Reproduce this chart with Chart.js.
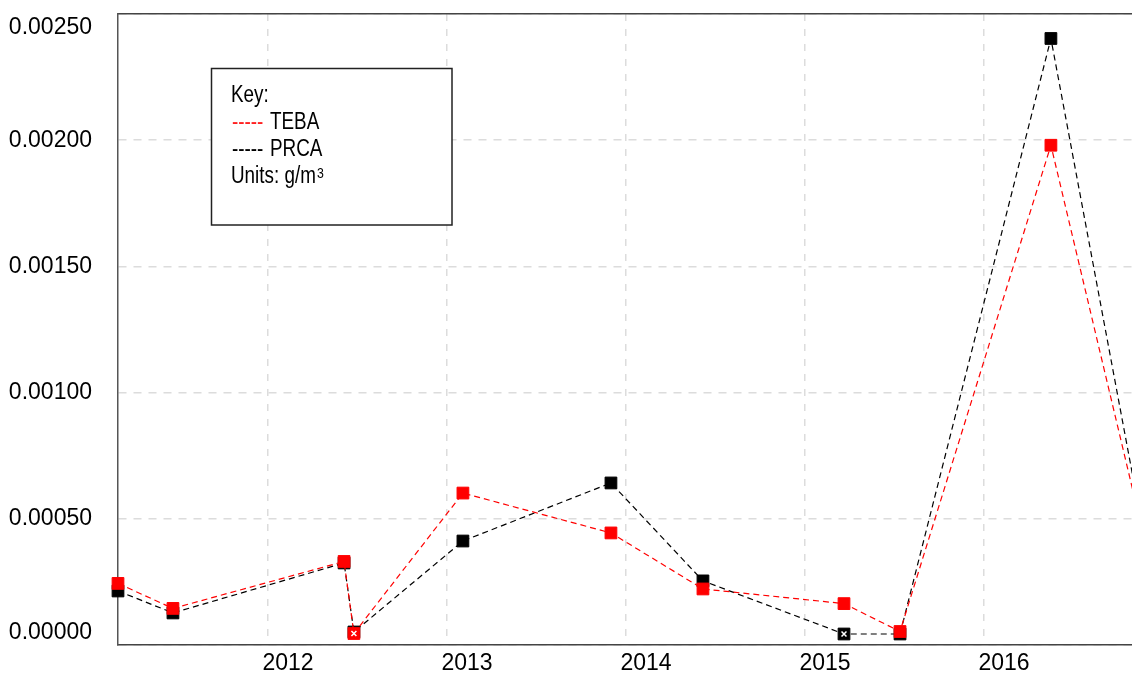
<!DOCTYPE html>
<html><head><meta charset="utf-8">
<script src="https://cdn.jsdelivr.net/npm/chart.js@4/dist/chart.umd.min.js"></script>
<style>html,body{margin:0;padding:0;background:#fff;overflow:hidden}#wrap{width:1132px;height:677px;position:relative}</style>
</head><body><div id="wrap"><canvas id="c" width="1132" height="677"></canvas></div>
<script>
// ---- data ----
const years = [2011.162, 2011.469, 2012.425, 2012.480, 2013.089, 2013.916, 2014.430, 2015.218, 2015.531, 2016.374, 2017.0];
const teba  = [0.000244, 0.000145, 0.000331, 0.0000455, 0.000602, 0.000444, 0.000222, 0.000164, 0.0000535, 0.00198, 0.00011];
const prca  = [0.000214, 0.000127, 0.000325, 0.0000515, 0.000412, 0.000642, 0.000254, 0.0000436, 0.0000436, 0.002403, 0.00003];
const flagYears  = [2012.480, 2015.218];
const flagValues = [0.0000455, 0.0000436];
const xTickYears = [2012, 2013, 2014, 2015, 2016];
const yTickValues = [0, 0.0005, 0.001, 0.0015, 0.002, 0.0025];
const xRange = [2011.162, 2016.827];
const yRange = [0, 0.0025];
const legendTitle = 'Key:';
const legendSeries = ['TEBA', 'PRCA'];
const legendUnits = 'Units: g/m';
const legendUnitsSup = '3';

function hasFont(name){
  const c = document.createElement('canvas').getContext('2d');
  const s = 'TEBA Units mmm 0123';
  c.font = '40px monospace'; const a = c.measureText(s).width;
  c.font = '40px "' + name + '", monospace'; const b = c.measureText(s).width;
  return Math.abs(a - b) > 0.5;
}
const NARROW = hasFont('Liberation Sans Narrow');

function nText(ctx, text, x, y, size, color){
  ctx.fillStyle = color;
  if (NARROW){
    ctx.font = size + 'px "Liberation Sans Narrow"';
    ctx.fillText(text, x, y);
    return ctx.measureText(text).width;
  }
  ctx.save();
  ctx.translate(x, y); ctx.scale(0.82, 1);
  ctx.font = size + 'px "Liberation Sans", Arial, sans-serif';
  ctx.fillText(text, 0, 0);
  const w = ctx.measureText(text).width * 0.82;
  ctx.restore();
  return w;
}

const toXY = (xs, ys) => xs.map((x, i) => ({x: x, y: ys[i]}));

const overlay = {
  id: 'overlay',
  afterDraw(chart){
    const ctx = chart.ctx;
    const ys = chart.scales.y;
    const area = chart.chartArea;
    ctx.save();
    ctx.font = '23px "Liberation Sans", Arial, sans-serif';
    ctx.fillStyle = '#000';
    ctx.textAlign = 'right';
    ctx.textBaseline = 'middle';
    yTickValues.forEach(v => {
      let py = ys.getPixelForValue(v);
      py = Math.min(Math.max(py, area.top + 13.5), area.bottom - 12);
      ctx.fillText(v.toFixed(5), 92, py);
    });
    ctx.restore();
    // legend box
    ctx.save();
    ctx.fillStyle = '#fff';
    ctx.fillRect(211, 68, 241, 157);
    ctx.strokeStyle = '#222';
    ctx.lineWidth = 1.5;
    ctx.strokeRect(211.5, 68.5, 240.5, 156.5);
    ctx.textAlign = 'left';
    ctx.textBaseline = 'alphabetic';
    nText(ctx, legendTitle, 231, 102, 23, '#000');
    nText(ctx, '-----', 232, 128.5, 23, '#ff2020');
    nText(ctx, legendSeries[0], 270, 128.5, 23, '#000');
    nText(ctx, '-----', 232, 156, 23, '#000');
    nText(ctx, legendSeries[1], 270, 156, 23, '#000');
    const w = nText(ctx, legendUnits, 231, 183, 23, '#000');
    nText(ctx, legendUnitsSup, 231 + w + 1, 178, 15, '#000');
    ctx.restore();
  }
};

const gridColor = '#dcdcdc';
const zeroPad = s => { s.paddingLeft = 0; s.paddingRight = 0; s.paddingTop = 0; s.paddingBottom = 0; };

new Chart(document.getElementById('c'), {
  type: 'line',
  data: {
    datasets: [
      {
        label: 'flags',
        data: toXY(flagYears, flagValues),
        showLine: false,
        clip: false,
        pointStyle: 'crossRot',
        pointRadius: 3.5,
        pointBorderColor: '#ffffff',
        pointBorderWidth: 1.5,
        pointBackgroundColor: '#ffffff'
      },
      {
        label: legendSeries[0],
        data: toXY(years, teba),
        clip: false,
        borderColor: '#ff0000',
        borderWidth: 1.2,
        borderDash: [6, 4],
        pointStyle: 'rect',
        pointRadius: 8.3,
        pointBackgroundColor: '#ff0000',
        pointBorderColor: '#ff0000',
        pointBorderWidth: 1,
        tension: 0,
        fill: false
      },
      {
        label: legendSeries[1],
        data: toXY(years, prca),
        clip: false,
        borderColor: '#000000',
        borderWidth: 1.2,
        borderDash: [6, 4],
        pointStyle: 'rect',
        pointRadius: 8.3,
        pointBackgroundColor: '#000000',
        pointBorderColor: '#000000',
        pointBorderWidth: 1,
        tension: 0,
        fill: false
      }
    ]
  },
  options: {
    responsive: false,
    devicePixelRatio: 1,
    animation: false,
    events: [],
    layout: { padding: 0, autoPadding: false },
    plugins: { legend: { display: false }, tooltip: { enabled: false }, title: { display: false } },
    scales: {
      x: {
        type: 'linear',
        position: 'bottom',
        min: xRange[0], max: xRange[1],
        afterBuildTicks: s => { s.ticks = xTickYears.map(v => ({value: v})); },
        afterFit: s => { s.height = 32; zeroPad(s); },
        grid: { color: gridColor, lineWidth: 1.5, drawTicks: false },
        border: { display: true, color: '#444', width: 1.5, dash: [7, 8] },
        ticks: {
          autoSkip: false, maxRotation: 0, minRotation: 0,
          padding: 5, labelOffset: 20,
          color: '#000',
          font: { family: '"Liberation Sans", Arial, sans-serif', size: 23 },
          callback: v => String(v)
        }
      },
      xTop: {
        type: 'linear',
        position: 'top',
        min: xRange[0], max: xRange[1],
        afterFit: s => { s.height = 14; zeroPad(s); },
        grid: { display: false, drawTicks: false },
        border: { display: true, color: '#444', width: 1.5 },
        ticks: { display: false }
      },
      y: {
        type: 'linear',
        position: 'left',
        min: yRange[0], max: yRange[1],
        afterBuildTicks: s => { s.ticks = yTickValues.map(v => ({value: v})); },
        afterFit: s => { s.width = 118; zeroPad(s); },
        grid: { color: gridColor, lineWidth: 1.5, drawTicks: false },
        border: { display: true, color: '#555', width: 1.5, dash: [8, 7] },
        ticks: { display: false }
      }
    }
  },
  plugins: [overlay]
});
</script>
</body></html>
